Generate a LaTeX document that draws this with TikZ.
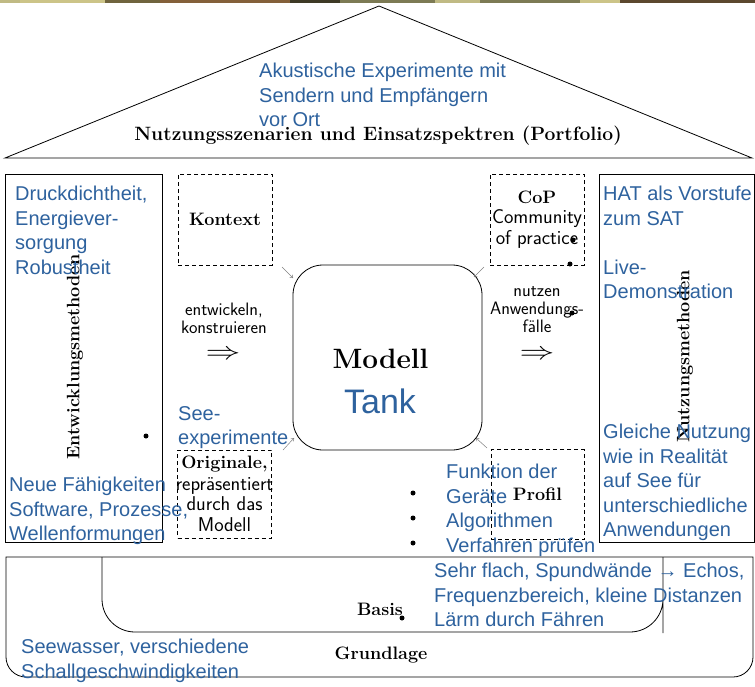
\documentclass[tikz,border=0pt]{standalone}
\usepackage{fontspec}
\newfontfamily\bluefont{Liberation Sans}
\usetikzlibrary{arrows.meta}
\definecolor{tblue}{RGB}{46,98,158}
\definecolor{camA}{RGB}{192,186,132}
\definecolor{camB}{RGB}{112,100,62}
\definecolor{camC}{RGB}{132,96,58}
\definecolor{camD}{RGB}{62,58,38}
\definecolor{camE}{RGB}{124,122,84}
\definecolor{camF}{RGB}{204,196,136}
\definecolor{camG}{RGB}{92,72,46}
\begin{document}
\begin{tikzpicture}[x=1pt,y=-1pt,
  bluetxt/.style={font=\bluefont\fontsize{20}{24.5}\selectfont, text=tblue, align=left, inner sep=0, anchor=north west},
  serifbold/.style={font=\bfseries\fontsize{18}{20}\selectfont, inner sep=0},
  sanslbl/.style={font=\sffamily\fontsize{18}{18}\selectfont, align=center, inner sep=0},
  dbox/.style={draw, dash pattern=on 4pt off 3pt, line width=0.8pt, align=center, inner sep=0, font=\fontsize{20}{20.5}\selectfont},
  boxtxt/.style={align=center, inner sep=0, font=\fontsize{20}{20.5}\selectfont},
  frame/.style={draw, line width=0.8pt},
  smallarrow/.style={draw=gray, line width=0.5pt, -{To[length=3pt,width=4pt]}},
  dot/.style={circle, fill=black, inner sep=0, minimum size=5pt},
  bigarrow/.style={font=\fontsize{28}{28}\selectfont, inner sep=0, xscale=1.4}
]
\useasboundingbox (0,0) rectangle (755,686);
% camouflage strip at top
\fill[camA] (0,0) rectangle (20,3);
\fill[camF] (20,0) rectangle (105,3);
\fill[camB] (105,0) rectangle (160,3);
\fill[camC] (160,0) rectangle (290,3);
\fill[camD] (290,0) rectangle (340,3);
\fill[camE] (340,0) rectangle (435,3);
\fill[camA] (435,0) rectangle (480,3);
\fill[camE] (480,0) rectangle (580,3);
\fill[camF] (580,0) rectangle (620,3);
\fill[camG] (620,0) rectangle (755,3);

% roof
\coordinate (rl) at (5,158);
\coordinate (ra) at (379,6);
\coordinate (rr) at (752,158);
\draw[frame, line join=miter] (rl) -- (ra) -- (rr) -- cycle;
\node[serifbold, anchor=base, font=\bfseries\fontsize{19.3}{21}\selectfont] (title) at (378,140) {Nutzungsszenarien und Einsatzspektren (Portfolio)};
\node[bluetxt] (akustik) at (259,63) {Akustische Experimente mit\\Sendern und Empfängern\\vor Ort};

% left and right columns
\node[frame, minimum width=157pt, minimum height=368pt, inner sep=0] (left) at (83.5,358) {};
\node[frame, minimum width=155pt, minimum height=368pt, inner sep=0] (right) at (676.5,358) {};
\node[serifbold, rotate=90] (entw) at (75,357) {Entwicklungsmethoden};
\node[serifbold, rotate=90] (nutzm) at (685,356) {Nutzungsmethoden};

% dashed boxes
\node[dbox, minimum width=94pt, minimum height=91pt] (kontext) at (225,219.5)
  {\bfseries\fontsize{18}{20}\selectfont Kontext};
\node[dbox, minimum width=94pt, minimum height=91pt] (cop) at (537,219.5) {};
\node[boxtxt] (coptxt) at (cop.center)
  {{\bfseries\fontsize{18}{20}\selectfont CoP}\\{\sffamily Community}\\{\sffamily of practice}};
\node[dbox, minimum width=94pt, minimum height=88pt] (orig) at (224.5,494) {};
\node[boxtxt] (origtxt) at (orig.center)
  {{\bfseries\fontsize{18}{20}\selectfont Originale,}\\[1pt]{\sffamily repräsentiert}\\{\sffamily durch das}\\{\sffamily Modell}};
\node[dbox, minimum width=93pt, minimum height=90pt] (profil) at (537.5,494.5)
  {\bfseries\fontsize{18}{20}\selectfont Profil};

% model
\node[draw, line width=0.8pt, rounded corners=30pt, minimum width=189pt, minimum height=185pt, inner sep=0] (modell) at (387.5,357.5) {};
\node[anchor=base, inner sep=0, font=\bfseries\fontsize{28}{30}\selectfont] (modelltxt) at (380.5,368) {Modell};
\node[anchor=base, inner sep=0, text=tblue, font=\bluefont\fontsize{34}{36}\selectfont] (tank) at (380,413) {Tank};

% small arrows to the model
\coordinate (k1) at (282,267); \coordinate (k2) at (293,278);
\coordinate (c1) at (484,267); \coordinate (c2) at (474,277);
\coordinate (o1) at (283,450); \coordinate (o2) at (294,438);
\coordinate (p1) at (487,448); \coordinate (p2) at (476,438);
\draw[smallarrow] (k1) -- (k2);
\draw[smallarrow] (c1) -- (c2);
\draw[smallarrow] (o1) -- (o2);
\draw[smallarrow] (p1) -- (p2);

% labels between boxes
\node[sanslbl, anchor=base] (entwk) at (224,333) {entwickeln,\\konstruieren};
\node[bigarrow] (arrL) at (223,355) {$\Rightarrow$};
\node[sanslbl, anchor=base] (nutzen) at (537,332) {nutzen\\Anwendungs-\\fälle};
\node[bigarrow] (arrR) at (537,355) {$\Rightarrow$};

% blue annotations
\node[bluetxt] (druck) at (15,186) {Druckdichtheit,\\Energiever-\\sorgung\\Robustheit};
\node[bluetxt] (neue) at (9,477) {Neue Fähigkeiten\\Software, Prozesse,\\Wellenformungen};
\node[bluetxt] (see) at (178,406) {See-\\experimente};
\node[bluetxt] (hat) at (603,186) {HAT als Vorstufe\\zum SAT\\[24.5pt]Live-\\Demonstration};
\node[bluetxt] (gleiche) at (603,424) {Gleiche Nutzung\\wie in Realität\\auf See für\\unterschiedliche\\Anwendungen};
\node[bluetxt] (funktion) at (446,464) {Funktion der\\Geräte\\Algorithmen\\Verfahren prüfen};

% dots and bullets
\node[dot] (d1) at (146,436) {};
\node[dot] (d2) at (573,240) {};
\node[dot] (d3) at (570,264) {};
\node[dot] (d4) at (572,313) {};
\node[dot] (b1) at (413,493) {};
\node[dot] (b2) at (413,518) {};
\node[dot] (b3) at (413,543) {};

% foundation
\draw[frame] (6,557) -- (753,557) -- (753,600) [rounded corners=20pt] -- (753,677) -- (6,677) -- (6,600) [sharp corners] -- cycle;
\draw[frame] (102,557) -- (102,600) [rounded corners=33pt] -- (102,632) -- (663,632) -- (663,600) [sharp corners] -- (663,557);
\node[serifbold, anchor=base] (basis) at (380,615) {Basis};
\node[dot] (d5) at (402,618) {};
\node[serifbold, anchor=base] (grund) at (381,659) {Grundlage};
\node[bluetxt] (sehr) at (434,563) {Sehr flach, Spundwände → Echos,\\Frequenzbereich, kleine Distanzen\\Lärm durch Fähren};
\node[bluetxt] (seew) at (21,639) {Seewasser, verschiedene\\Schallgeschwindigkeiten};
\end{tikzpicture}
\end{document}
